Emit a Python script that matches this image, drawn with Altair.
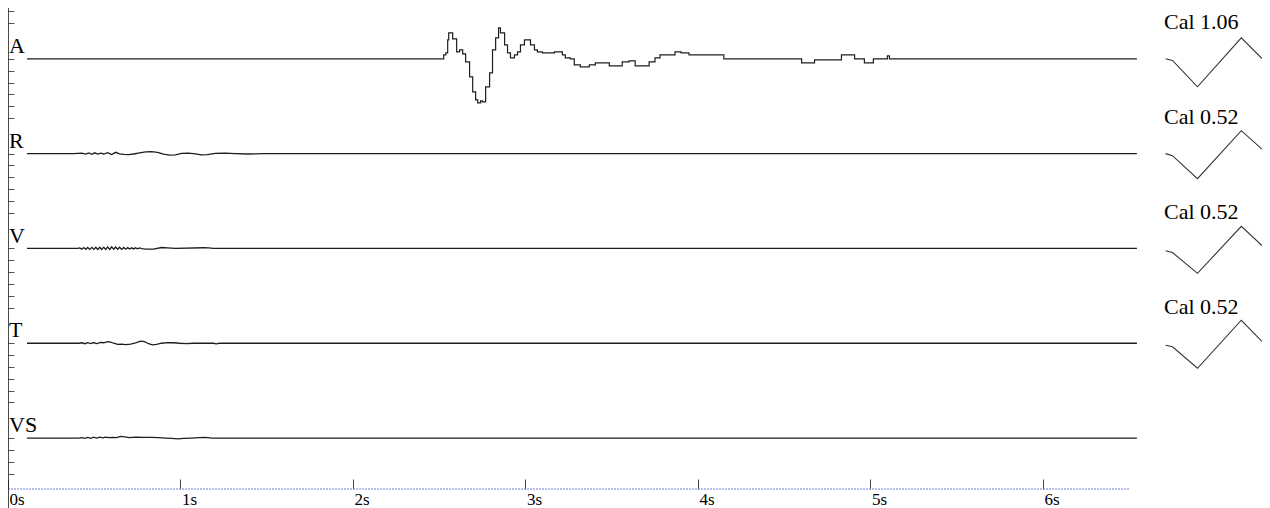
import altair as alt
import pandas as pd

# ---------------- data ----------------
channels = ["A", "R", "V", "T", "VS"]
cal_labels = ["Cal 1.06", "Cal 0.52", "Cal 0.52", "Cal 0.52"]
time_ticks = [0, 1, 2, 3, 4, 5, 6]

# channel A (seconds, divisions relative to baseline)
a_time = [0.11, 2.520, 2.526, 2.538, 2.549, 2.555, 2.578, 2.601, 2.618, 2.636,
          2.653, 2.676, 2.694, 2.711, 2.723, 2.740, 2.751, 2.769, 2.792, 2.809,
          2.827, 2.844, 2.855, 2.879, 2.896, 2.913, 2.936, 2.954, 2.971, 2.994,
          3.017, 3.029, 3.052, 3.069, 3.098, 3.168, 3.197, 3.214, 3.231, 3.260,
          3.283, 3.318, 3.370, 3.405, 3.445, 3.486, 3.520, 3.561, 3.601, 3.636,
          3.694, 3.717, 3.751, 3.780, 3.867, 3.902, 3.948, 4.110, 4.150, 4.601,
          4.676, 4.832, 4.908, 4.965, 5.017, 5.098, 5.110, 6.545]
a_amp = [0, 0, 0.34, 0.51, 1.60, 2.19, 1.69, 0.59, 0.76, 0.42,
         -0.25, -1.52, -2.78, -3.46, -3.71, -3.54, -3.63, -2.36, -1.18, 0.76,
         1.77, 2.62, 2.19, 1.18, 0.51, 0.08, 0.34, 0.59, 1.18, 1.60,
         1.60, 1.18, 0.76, 0.59, 0.51, 0.59, 0.59, 0.34, 0.08, 0,
         -0.51, -0.68, -0.51, -0.34, -0.34, -0.59, -0.59, -0.25, -0.17, -0.59,
         -0.59, -0.25, 0.08, 0.34, 0.59, 0.51, 0.34, 0.34, 0, -0.34,
         -0.08, 0.34, 0, -0.34, 0, 0.25, 0, 0]

r_time = [0.11, 0.382, 0.428, 0.451, 0.468, 0.486, 0.503, 0.520, 0.538, 0.555,
          0.578, 0.601, 0.624, 0.647, 0.671, 0.699, 0.728, 0.763, 0.798, 0.832,
          0.867, 0.902, 0.936, 0.971, 1.006, 1.046, 1.087, 1.121, 1.156, 1.202,
          1.260, 1.318, 1.393, 1.480, 6.545]
r_amp = [0, 0, 0.04, -0.04, 0.06, -0.06, 0.07, -0.04, 0.04, -0.03,
         0.08, -0.08, 0.11, -0.02, -0.07, -0.08, -0.03, 0.07, 0.15, 0.17,
         0.10, -0.04, -0.13, -0.10, 0.02, 0.04, -0.02, -0.11, -0.08, 0.02,
         0.04, 0, -0.03, 0, 0]

v_time = [0.11, 0.405, 0.416, 0.428, 0.439, 0.451, 0.462, 0.474, 0.486, 0.497,
          0.509, 0.520, 0.532, 0.543, 0.555, 0.566, 0.578, 0.590, 0.601, 0.613,
          0.624, 0.636, 0.647, 0.659, 0.671, 0.682, 0.694, 0.705, 0.717, 0.728,
          0.740, 0.751, 0.763, 0.775, 0.798, 0.844, 0.890, 0.925, 0.971, 1.133,
          1.162, 1.191, 6.545]
v_amp = [0, 0, 0.05, -0.06, 0.07, -0.07, 0.08, -0.08, 0.09, -0.08,
         0.10, -0.09, 0.10, -0.09, 0.11, -0.08, 0.12, -0.08, 0.14, -0.06,
         0.12, -0.07, 0.10, -0.08, 0.08, -0.06, 0.07, -0.05, 0.05, -0.04,
         0.05, -0.03, 0.04, -0.02, -0.05, -0.06, 0.08, 0.05, 0, 0.06,
         0.05, 0, 0]

t_time = [0.11, 0.410, 0.428, 0.445, 0.462, 0.480, 0.497, 0.514, 0.538, 0.555,
          0.578, 0.595, 0.613, 0.636, 0.659, 0.682, 0.711, 0.740, 0.769, 0.792,
          0.815, 0.838, 0.861, 0.890, 0.925, 0.960, 0.994, 1.035, 1.075, 1.191,
          1.208, 1.225, 6.545]
t_amp = [0, 0, 0.04, -0.04, 0.05, -0.03, 0.06, -0.03, 0.07, 0.04,
         0.14, 0.10, 0, -0.10, -0.08, -0.12, -0.07, 0.04, 0.17, 0.13,
         -0.04, -0.14, -0.10, 0, 0.06, 0.04, 0, -0.03, 0, 0,
         -0.05, 0, 0]

vs_time = [0.11, 0.410, 0.428, 0.445, 0.462, 0.480, 0.497, 0.514, 0.532, 0.549,
           0.566, 0.584, 0.607, 0.630, 0.653, 0.676, 0.705, 0.740, 0.786, 0.832,
           0.873, 0.913, 0.948, 0.988, 1.017, 1.064, 1.110, 1.144, 1.179, 6.545]
vs_amp = [0, 0, 0.03, -0.03, 0.05, -0.02, 0.07, 0, 0.08, 0.02,
          0.08, 0.03, 0.05, 0.03, 0.14, 0.10, 0.04, 0.07, 0.05, 0.06,
          0.03, 0, -0.02, -0.07, -0.03, 0, 0.03, 0.06, 0, 0]

# calibration pulses
cal_time = [6.711, 6.751, 6.896, 7.150, 7.270]
cal_a = [0, -0.13, -2.36, 1.77, 0.02]
cal_r = [0, -0.17, -2.11, 1.94, 0.38]
cal_v = [-0.2, -0.35, -2.10, 1.86, 0.24]
cal_t = [-0.17, -0.30, -2.11, 1.94, 0.15]

axis_end = 6.5

# ---------------- layout constants ----------------
BASE = 4.3        # baseline of lowest channel (divisions)
SPACING = 8.0     # divisions between channel baselines
Y_TOP = 40.59
X_MAX = 7.27
FONT = "Liberation Serif"
INK = "#1e1e1e"
LABEL_T = 0.006
CAL_LABEL_T = 6.702

offset = {ch: BASE + SPACING * (len(channels) - 1 - i) for i, ch in enumerate(channels)}

traces = {"A": (a_time, a_amp), "R": (r_time, r_amp), "V": (v_time, v_amp),
          "T": (t_time, t_amp), "VS": (vs_time, vs_amp)}
rows = []
for ch, (ts, vs) in traces.items():
    for k, (t, v) in enumerate(zip(ts, vs)):
        rows.append({"channel": ch, "t": t, "y": offset[ch] + v, "k": k})
df = pd.DataFrame(rows)

cals = {"A": cal_a, "R": cal_r, "V": cal_v, "T": cal_t}
crows = []
for ch, vs in cals.items():
    for k, (t, v) in enumerate(zip(cal_time, vs)):
        crows.append({"channel": ch, "t": t, "y": offset[ch] + v, "k": k})
cdf = pd.DataFrame(crows)

lab_df = pd.DataFrame({"channel": channels,
                       "t": [LABEL_T] * len(channels),
                       "y": [offset[c] + 0.5 for c in channels]})
cal_lab_df = pd.DataFrame({"label": cal_labels,
                           "t": [CAL_LABEL_T] * len(cal_labels),
                           "y": [offset[c] + 2.49 for c in channels[:len(cal_labels)]]})

ytick_vals = [round(BASE + n, 2) for n in range(-4, 37)
              if (n % 8) not in (1, 2) and 0.5 < BASE + n < Y_TOP]

xs = alt.Scale(domain=[0, X_MAX], nice=False, zero=False)
ys = alt.Scale(domain=[0, Y_TOP], nice=False, zero=False)

xax = alt.Axis(values=time_ticks, labelExpr="datum.value + 's'", orient="bottom",
               offset=-10, tickSize=10, domain=False, grid=False,
               tickColor="#444", tickWidth=1, labelAlign="left",
               labelBaseline="alphabetic", labelPadding=15, labelOffset=1,
               labelFont=FONT, labelFontSize=17, labelColor="black",
               labelFlush=False, labelOverlap=False, title=None)
yax = alt.Axis(values=ytick_vals, orient="left", offset=-6, tickSize=6,
               domain=False, grid=False, labels=False, tickColor="#555",
               tickWidth=1, title=None)

X = alt.X("t:Q", scale=xs, axis=xax)
Y = alt.Y("y:Q", scale=ys, axis=yax)

layer_a = alt.Chart(df[df.channel == "A"]).mark_line(
    interpolate="step-after", color=INK, strokeWidth=1.2
).encode(x=X, y=Y, order="k:Q")

layer_other = alt.Chart(df[df.channel != "A"]).mark_line(
    color=INK, strokeWidth=1.3
).encode(x=X, y=Y, detail="channel:N", order="k:Q")

layer_lab = alt.Chart(lab_df).mark_text(
    align="left", baseline="alphabetic", font=FONT, fontSize=22, color="black"
).encode(x=X, y=Y, text="channel:N")

layer_cal = alt.Chart(cdf).mark_line(color="#333", strokeWidth=1.1).encode(
    x=X, y=Y, detail="channel:N", order="k:Q")

layer_cal_lab = alt.Chart(cal_lab_df).mark_text(
    align="left", baseline="alphabetic", font=FONT, fontSize=22, color="black"
).encode(x=X, y=Y, text="label:N")

left_line = alt.Chart(pd.DataFrame({"t": [0]})).mark_rule(
    color=INK, strokeWidth=1.6
).encode(x=X, y=alt.value(0), y2=alt.value(500))

bottom_line = alt.Chart(pd.DataFrame({"t": [0], "t2": [axis_end], "y": [0]})).mark_rule(
    color="#6f7fd6", strokeDash=[2, 1], strokeWidth=1.2
).encode(x=X, x2="t2:Q", y=Y)

chart = alt.layer(
    bottom_line, left_line, layer_other, layer_a,
    layer_cal, layer_lab, layer_cal_lab
).properties(
    width=1254, height=481,
    padding={"left": 0, "top": 0, "right": 0, "bottom": 19},
    autosize="none",
).configure_view(stroke=None)

chart.save("out.html", embed_options={"renderer": "svg", "actions": False})
